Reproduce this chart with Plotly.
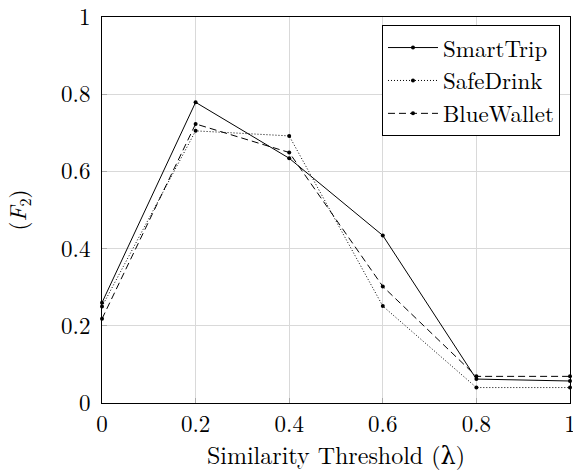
import plotly.graph_objects as go

thresholds = [0, 0.2, 0.4, 0.6, 0.8, 1.0]
smarttrip = [0.26, 0.779, 0.634, 0.434, 0.062, 0.057]
safedrink = [0.25, 0.705, 0.692, 0.251, 0.040, 0.040]
bluewallet = [0.218, 0.723, 0.649, 0.302, 0.069, 0.069]

x_ticks = [0, 0.2, 0.4, 0.6, 0.8, 1]
x_ticklabels = ["0", "0.2", "0.4", "0.6", "0.8", "1"]
y_ticks = [0, 0.2, 0.4, 0.6, 0.8, 1]
y_ticklabels = ["0", "0.2", "0.4", "0.6", "0.8", "1"]

FONT = "Latin Modern Roman, CMU Serif, DejaVu Serif, serif"

fig = go.Figure()
series = [
    ("SmartTrip", smarttrip, "solid"),
    ("SafeDrink", safedrink, "1px,2px"),
    ("BlueWallet", bluewallet, "7px,4px"),
]
for name, vals, dash in series:
    fig.add_trace(go.Scatter(
        x=thresholds, y=vals, name=name, mode="lines+markers",
        line=dict(color="black", width=1, dash=dash),
        marker=dict(color="black", size=4, symbol="circle"),
        cliponaxis=False,
    ))

axis_common = dict(
    showgrid=True, gridcolor="#d9d9d9", gridwidth=1,
    showline=True, linecolor="black", linewidth=1, mirror=True,
    ticks="inside", ticklen=5, tickcolor="#aaaaaa",
    zeroline=False, ticklabeloverflow="allow", automargin=False,
    tickfont=dict(family=FONT, size=23, color="black"),
)

fig.update_layout(
    width=573, height=471,
    margin=dict(l=102, r=3, t=17, b=68),
    paper_bgcolor="white", plot_bgcolor="white",
    font=dict(family=FONT, size=23, color="black"),
    xaxis=dict(
        range=[0, 1], tickvals=x_ticks, ticktext=x_ticklabels,
        ticklabelstandoff=0,
        title=dict(text="Similarity Threshold (λ)", font=dict(family=FONT, size=24), standoff=17),
        **axis_common,
    ),
    yaxis=dict(
        range=[0, 1], tickvals=y_ticks, ticktext=y_ticklabels,
        ticklabelstandoff=6,
        title=dict(text="(<i>F</i><sub>2</sub>)", font=dict(family=FONT, size=23), standoff=28),
        **axis_common,
    ),
    legend=dict(
        x=0.9786, y=0.979, xanchor="right", yanchor="top",
        bgcolor="white", bordercolor="black", borderwidth=1,
        font=dict(family=FONT, size=23, color="black"),
        tracegroupgap=0, itemwidth=50,
    ),
    showlegend=True,
)

fig.write_html("out.html")
